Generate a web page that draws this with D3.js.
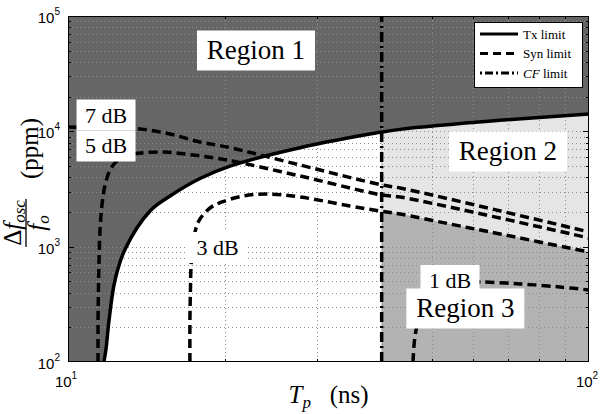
<!DOCTYPE html>
<html>
<head>
<meta charset="utf-8">
<script src="https://cdn.jsdelivr.net/npm/d3@7"></script>
<style>
  body { margin: 0; background: #fff; }
  svg text { font-family: "Liberation Serif", "Times New Roman", serif; }
  .tick-label { font-family: "Liberation Sans", Arial, sans-serif; }
</style>
</head>
<body>
<svg id="chart" width="600" height="414"></svg>
<script>
// ---- data: pulse width Tp (ns) vs. allowed oscillator offset (ppm) ----
// transmitter limit
const txTp  = [11.72, 11.83, 11.99, 12.31, 12.87, 14.37, 15.70, 17.92, 20.46, 27.88, 39.7, 43.4, 67.5, 100];
const txPpm = [100, 130, 231, 514, 950, 2040, 2750, 3900, 5000, 7200, 9800, 10400, 12450, 14140];

// synchronisation limits for several SNR margins
const syn7Tp  = [10, 12.2, 13.75, 15.70, 17.92, 20.20, 27.88, 40.06, 43.4, 100];
const syn7Ppm = [10900, 10700, 10476, 9482, 8080, 7314, 5108, 3424, 3226, 1341];

const syn5Tp  = [11.42, 11.42, 11.44, 11.47, 11.52, 11.62, 11.78, 12.04, 12.42, 13.04, 13.75, 15.35, 17.37, 20.20, 27.88, 40.06, 43.4, 100];
const syn5Ppm = [100, 231, 421, 766, 1395, 2298, 3424, 4620, 5530, 6232, 6490, 6620, 6232, 5640, 4100, 2805, 2695, 1189];

const syn3Tp  = [17.14, 17.14, 17.18, 17.22, 17.37, 17.61, 17.92, 18.73, 19.75, 21.67, 24.10, 27.88, 34.77, 39.7, 43.4, 54.1, 67.5, 100];
const syn3Ppm = [100, 231, 421, 653, 1034, 1452, 1737, 2164, 2440, 2750, 2861, 2695, 2252, 2038, 1920, 1572, 1288, 899];

const syn1Tp  = [45.95, 46.15, 46.56, 47.38, 49.52, 52.92, 57.81, 61.78, 73.73, 87.97, 100];
const syn1Ppm = [100, 140, 189, 256, 345, 430, 484, 494, 475, 447, 421];

// carrier-frequency limit (vertical)
const cfTp  = [40, 40];
const cfPpm = [100, 100000];

// axis ticks (decade exponents)
const xTickExp = [1, 2];
const yTickExp = [2, 3, 4, 5];

// annotation labels (anchored in data units)
const regionNames = ["Region 1", "Region 2", "Region 3"];
const regionTp    = [22.95, 69.9, 57.9];
const regionPpm   = [50220, 6687, 291];
const snrNames = ["7 dB", "5 dB", "3 dB", "1 dB"];
const snrTp    = [11.83, 11.83, 19.36, 54.1];
const snrPpm   = [13855, 7462, 983, 509];

const legendNames = ["Tx limit", "Syn limit", "CF limit"];

// ---- layout ----
const svg = d3.select("#chart");
const L = 68, R = 589, T = 16, B = 362;
const x = d3.scaleLog().domain([10, 100]).range([L, R]);
const y = d3.scaleLog().domain([100, 100000]).range([B, T]);

const zip = (a, b) => a.map((v, i) => [v, b[i]]);
const tx = zip(txTp, txPpm), s7 = zip(syn7Tp, syn7Ppm), s5 = zip(syn5Tp, syn5Ppm),
      s3 = zip(syn3Tp, syn3Ppm), s1 = zip(syn1Tp, syn1Ppm), cf = zip(cfTp, cfPpm);

const defs = svg.append("defs");
defs.append("clipPath").attr("id", "plot").append("rect")
  .attr("x", L).attr("y", T).attr("width", R - L).attr("height", B - T);
defs.append("clipPath").attr("id", "leftCF").append("rect")
  .attr("x", L).attr("y", T).attr("width", x(40) - L).attr("height", B - T);
defs.append("clipPath").attr("id", "rightCF").append("rect")
  .attr("x", x(40)).attr("y", T).attr("width", R - x(40)).attr("height", B - T);

const curve = d3.curveCatmullRom.alpha(0.5);
const line = d3.line().x(d => x(d[0])).y(d => y(d[1])).curve(curve);
const area = d3.area().x(d => x(d[0])).y0(y(100)).y1(d => y(d[1])).curve(curve);

// regions
const g = svg.append("g").attr("clip-path", "url(#plot)");
g.append("rect").attr("x", L).attr("y", T).attr("width", R - L).attr("height", B - T).attr("fill", "#666666");
g.append("path").datum(tx).attr("d", area).attr("fill", "#ffffff").attr("clip-path", "url(#leftCF)");
g.append("path").datum(tx).attr("d", area).attr("fill", "#e5e5e5").attr("clip-path", "url(#rightCF)");
g.append("path").datum(s3).attr("d", area).attr("fill", "#b3b3b3").attr("clip-path", "url(#rightCF)");

// grid
const xGrid = d3.range(2, 10).map(k => k * 10);
const yGrid = [];
[100, 1000, 10000].forEach(d => { for (let k = 1; k <= 9; k++) if (!(d === 100 && k === 1)) yGrid.push(k * d); });
const grid = svg.append("g").attr("stroke", "#8c8c8c").attr("stroke-width", 1).attr("stroke-dasharray", "1,3");
grid.selectAll(".gx").data(xGrid).join("line")
  .attr("x1", d => Math.round(x(d)) + 0.5).attr("x2", d => Math.round(x(d)) + 0.5)
  .attr("y1", T).attr("y2", B);
grid.selectAll(".gy").data(yGrid).join("line")
  .attr("y1", d => Math.round(y(d)) + 0.5).attr("y2", d => Math.round(y(d)) + 0.5)
  .attr("x1", L).attr("x2", R);

// curves
const c = svg.append("g").attr("clip-path", "url(#plot)").attr("fill", "none").attr("stroke", "#000");
c.append("path").datum(tx).attr("d", line).attr("stroke-width", 3.5);
[s7, s5, s3, s1].forEach(s => c.append("path").datum(s).attr("d", line)
  .attr("stroke-width", 3.5).attr("stroke-dasharray", "9,5"));
c.append("path").datum(cf).attr("d", d3.line().x(d => x(d[0])).y(d => y(d[1])))
  .attr("stroke-width", 3.5).attr("stroke-dasharray", "10,4,2,4");

// label boxes
function labelBox(text, px, py, w, h, size) {
  const gg = svg.append("g");
  gg.append("rect").attr("x", px - w / 2).attr("y", py - h / 2).attr("width", w).attr("height", h).attr("fill", "#fff");
  gg.append("text").attr("x", px).attr("y", py).attr("text-anchor", "middle")
    .attr("dominant-baseline", "central").attr("font-size", size).text(text);
}
snrNames.forEach((n, i) => labelBox(n, x(snrTp[i]), y(snrPpm[i]), 59, 31, 22));
regionNames.forEach((n, i) => labelBox(n, x(regionTp[i]), y(regionPpm[i]), 118, 40, 27));

// axes box and ticks
const ax = svg.append("g").attr("stroke", "#000").attr("fill", "none");
ax.append("rect").attr("x", L + 0.5).attr("y", T + 0.5).attr("width", R - L - 1).attr("height", B - T - 1).attr("stroke-width", 1);
const xMinor = xGrid, yMinor = yGrid.filter(v => ![1000, 10000].includes(v));
const yMajor = [1000, 10000];
xMinor.forEach(v => {
  const px = Math.round(x(v)) + 0.5;
  ax.append("line").attr("x1", px).attr("x2", px).attr("y1", B).attr("y2", B - 3);
  ax.append("line").attr("x1", px).attr("x2", px).attr("y1", T).attr("y2", T + 3);
});
yMinor.forEach(v => {
  const py = Math.round(y(v)) + 0.5;
  ax.append("line").attr("y1", py).attr("y2", py).attr("x1", L).attr("x2", L + 3);
  ax.append("line").attr("y1", py).attr("y2", py).attr("x1", R).attr("x2", R - 3);
});
yMajor.forEach(v => {
  const py = Math.round(y(v)) + 0.5;
  ax.append("line").attr("y1", py).attr("y2", py).attr("x1", L).attr("x2", L + 6);
  ax.append("line").attr("y1", py).attr("y2", py).attr("x1", R).attr("x2", R - 6);
});

// tick labels
yTickExp.forEach(e => {
  const t = svg.append("text").attr("class", "tick-label").attr("x", 60).attr("y", y(Math.pow(10, e)) + 7)
    .attr("text-anchor", "end").attr("font-size", 15);
  t.append("tspan").text("10");
  t.append("tspan").attr("font-size", 10).attr("dy", -8).text(e);
});
xTickExp.forEach(e => {
  const t = svg.append("text").attr("class", "tick-label").attr("x", x(Math.pow(10, e)) - 2).attr("y", 387)
    .attr("text-anchor", "middle").attr("font-size", 15);
  t.append("tspan").text("10");
  t.append("tspan").attr("font-size", 10).attr("dy", -8).text(e);
});

// axis titles
const xt = svg.append("text").attr("x", (L + R) / 2).attr("y", 403).attr("text-anchor", "middle").attr("font-size", 25);
xt.append("tspan").attr("font-style", "italic").text("T");
xt.append("tspan").attr("font-style", "italic").attr("font-size", 17).attr("dy", 5).text("p");
xt.append("tspan").attr("dy", -5).text("\u2002 (ns)");

const yt = svg.append("g").attr("transform", `translate(26,${(T + B) / 2}) rotate(-90)`);
yt.append("line").attr("x1", -58).attr("x2", -10).attr("y1", 0).attr("y2", 0).attr("stroke", "#000").attr("stroke-width", 1.3);
const num = yt.append("text").attr("x", -34).attr("y", -5).attr("text-anchor", "middle").attr("font-size", 25);
num.append("tspan").text("\u0394");
num.append("tspan").attr("font-style", "italic").text("f");
num.append("tspan").attr("font-style", "italic").attr("font-size", 17).attr("dy", 4).text("osc");
const den = yt.append("text").attr("x", -34).attr("y", 19).attr("text-anchor", "middle").attr("font-size", 25);
den.append("tspan").attr("font-style", "italic").text("f");
den.append("tspan").attr("font-style", "italic").attr("font-size", 17).attr("dy", 4).text("o");
yt.append("text").attr("x", 10).attr("y", 12).attr("font-size", 25).text("(ppm)");

// legend
const lg = svg.append("g");
lg.append("rect").attr("x", 474.5).attr("y", 22.5).attr("width", 108).attr("height", 65)
  .attr("fill", "#fff").attr("stroke", "#000");
const dashes = [null, "8,5", "2,3,8,3"];
legendNames.forEach((n, i) => {
  const ly = 34 + i * 19.5;
  const ln = lg.append("line").attr("x1", 480).attr("x2", 518).attr("y1", ly).attr("y2", ly)
    .attr("stroke", "#000").attr("stroke-width", 3);
  if (dashes[i]) ln.attr("stroke-dasharray", dashes[i]);
  const t = lg.append("text").attr("x", 523).attr("y", ly + 4.5).attr("font-size", 13);
  if (n.startsWith("CF")) {
    t.append("tspan").attr("font-style", "italic").text("CF");
    t.append("tspan").text(" limit");
  } else t.text(n);
});
</script>
</body>
</html>
